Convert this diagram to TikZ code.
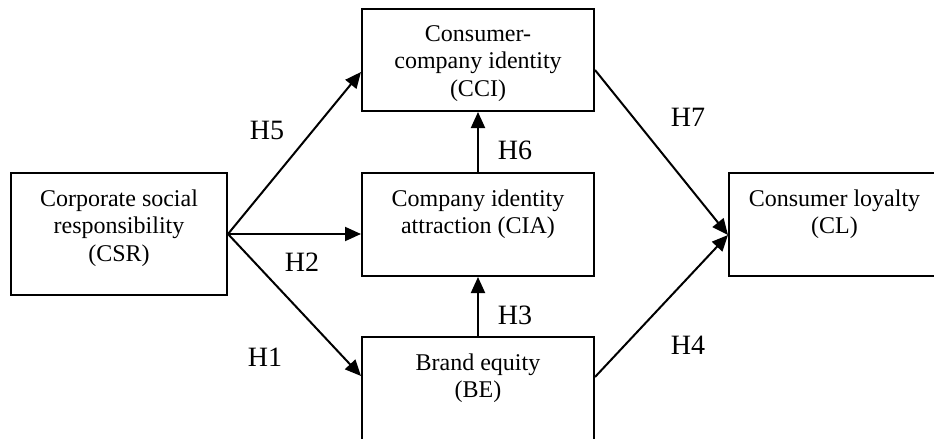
\documentclass[tikz,border=0pt]{standalone}
\usepackage{fontspec}
\setmainfont{Liberation Serif}
\usetikzlibrary{arrows.meta,calc}
\begin{document}
\begin{tikzpicture}[x=0.5pt,y=-0.5pt,
  box/.style={draw=black,line width=1pt,rectangle,inner sep=0pt,fill=none},
  txt/.style={anchor=north,align=center,inner sep=0pt,font=\fontsize{12pt}{13.8pt}\selectfont},
  hlab/.style={inner sep=0pt,font=\fontsize{14pt}{16pt}\selectfont},
  arr/.style={line width=1pt,-{Triangle[length=8pt,width=7pt]}},
  ln/.style={line width=1pt}]
\useasboundingbox (0,0) rectangle (934,439);
\clip (0,0) rectangle (934,439);
% boxes
\node[box,minimum width=108pt,minimum height=61pt] (csr) at (119,234) {};
\node[box,minimum width=116pt,minimum height=51pt] (cci) at (478,60) {};
\node[box,minimum width=116pt,minimum height=51.5pt] (cia) at (478,224.5) {};
\node[box,minimum width=116pt,minimum height=66.5pt] (be) at (478,403.5) {};
\node[box,minimum width=105.5pt,minimum height=51.5pt] (cl) at (834.5,224.5) {};
% texts
\node[txt] (csrT) at ($(csr.north)+(0,17)$) {Corporate social\\responsibility\\(CSR)};
\node[txt] (cciT) at ($(cci.north)+(0,17)$) {Consumer-\\company identity\\(CCI)};
\node[txt] (ciaT) at ($(cia.north)+(0,17)$) {Company identity\\attraction (CIA)};
\node[txt] (beT) at ($(be.north)+(0,17)$) {Brand equity\\(BE)};
\node[txt] (clT) at ($(cl.north)+(0,17)$) {Consumer loyalty\\(CL)};
% connectors
\draw[arr] (csr.east) -- ($(cci.west)+(0,12)$);
\draw[arr] (csr.east) -- (cia.west |- csr.east);
\draw[arr] (csr.east) -- ($(be.north west)+(0,40)$);
\draw[arr] (cia.north) -- (cci.south);
\draw[arr] (be.north) -- (cia.south);
\draw[arr] ($(cci.east)+(0,10)$) -- ($(cl.west)+(0,10.5)$);
\draw[arr] ($(be.north east)+(0,41)$) -- ($(cl.west)+(0,10.5)$);
% labels
\node[hlab] (h5) at (267,130) {H5};
\node[hlab] (h2) at (302,262) {H2};
\node[hlab] (h1) at (265,357) {H1};
\node[hlab] (h6) at (515,150) {H6};
\node[hlab] (h3) at (515,315) {H3};
\node[hlab] (h7) at (688,117) {H7};
\node[hlab] (h4) at (688,345) {H4};
\end{tikzpicture}
\end{document}
